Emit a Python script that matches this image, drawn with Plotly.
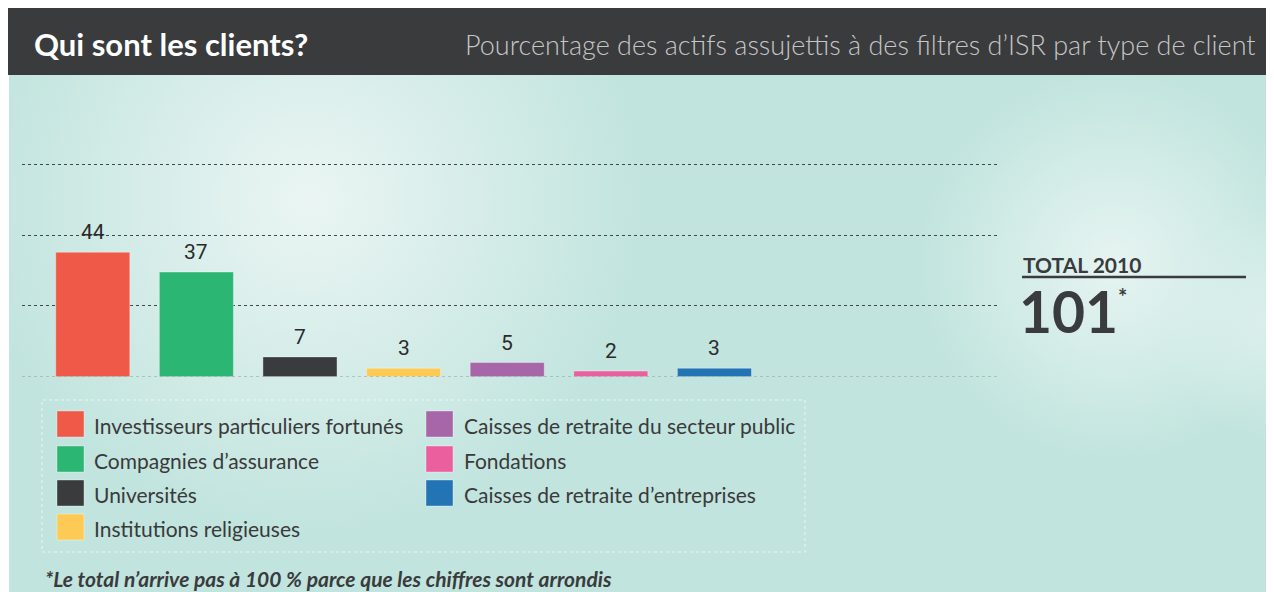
import base64
import plotly.graph_objects as go

# ---- data ----
categories = [
    "Investisseurs particuliers fortunés",
    "Compagnies d’assurance",
    "Universités",
    "Institutions religieuses",
    "Caisses de retraite du secteur public",
    "Fondations",
    "Caisses de retraite d’entreprises",
]
values = [44, 37, 7, 3, 5, 2, 3]
colors = ["#ef5947", "#2bb673", "#3a3b3d", "#fdcb55", "#a766a8", "#ec5f9f", "#2374b4"]
grid_values = [25, 50, 75]
total_label = "TOTAL 2010"
total_value = "101"
title = "Qui sont les clients?"
subtitle = "Pourcentage des actifs assujettis à des filtres d’ISR par type de client"
footnote = "*Le total n’arrive pas à 100 % parce que les chiffres sont arrondis"

# the page body adds an 8px margin, so the figure is drawn 8px smaller and
# positions below are given in window pixels, converted here
OFF = 8
W, H = 1274 - OFF, 592 - OFF


def px(x):
    return (x - OFF) / W


def py(y):
    return 1 - (y - OFF) / H


# ---- background gradient as svg image ----
bw, bh = 1265, 517
svg = f'''<svg xmlns="http://www.w3.org/2000/svg" width="{bw}" height="{bh}" viewBox="0 0 {bw} {bh}">
<defs>
<radialGradient id="g1" cx="301" cy="125" r="340" gradientUnits="userSpaceOnUse">
<stop offset="0" stop-color="#eaf5f3" stop-opacity="1"/>
<stop offset="1" stop-color="#eaf5f3" stop-opacity="0"/>
</radialGradient>
<radialGradient id="g2" cx="1105" cy="190" r="200" gradientUnits="userSpaceOnUse">
<stop offset="0" stop-color="#e6f4f1" stop-opacity="1"/>
<stop offset="1" stop-color="#e6f4f1" stop-opacity="0"/>
</radialGradient>
<radialGradient id="g3" cx="1275" cy="250" r="120" gradientUnits="userSpaceOnUse">
<stop offset="0" stop-color="#e2f2ef" stop-opacity="0.8"/>
<stop offset="1" stop-color="#e2f2ef" stop-opacity="0"/>
</radialGradient>
</defs>
<rect width="{bw}" height="{bh}" fill="#c1e4de"/>
<rect width="{bw}" height="{bh}" fill="url(#g1)"/>
<rect width="{bw}" height="{bh}" fill="url(#g2)"/>
<rect width="{bw}" height="{bh}" fill="url(#g3)"/>
</svg>'''
bg_uri = "data:image/svg+xml;base64," + base64.b64encode(svg.encode("utf-8")).decode("ascii")

x_pos = list(range(len(values)))

fig = go.Figure()
fig.add_trace(
    go.Bar(
        x=x_pos,
        y=values,
        width=0.715,
        marker=dict(color=colors, line=dict(color="rgba(255,255,255,0.35)", width=1)),
        hovertext=categories,
        showlegend=False,
    )
)

annotations = []
shapes = []

# value labels
for xi, v in zip(x_pos, values):
    annotations.append(
        dict(
            x=xi, y=v, xref="x", yref="y", text=str(v), showarrow=False,
            yanchor="bottom", yshift=6,
            font=dict(family="Roboto", size=21, color="#2b2b2b"),
        )
    )

# baseline
shapes.append(
    dict(type="line", xref="x domain", yref="y", x0=0, x1=1, y0=0, y1=0,
         line=dict(color="#9aa8a5", width=1, dash="dot"), layer="above")
)

# header bar
shapes.append(
    dict(type="rect", xref="paper", yref="paper", x0=0, x1=1, y0=py(75), y1=1,
         fillcolor="#3a3b3d", line=dict(width=0), layer="below")
)
annotations.append(
    dict(x=px(32), y=py(44), xref="paper", yref="paper", text=f"<b>{title}</b>",
         showarrow=False, xanchor="left", yanchor="middle",
         font=dict(family="Lato", size=31, color="#ffffff"))
)
annotations.append(
    dict(x=px(1258), y=py(45), xref="paper", yref="paper", text=subtitle,
         showarrow=False, xanchor="right", yanchor="middle",
         font=dict(family="Lato", size=27, color="#c6c6c6", weight=300))
)

# legend (manual, two columns)
leg_box = dict(type="rect", xref="paper", yref="paper", x0=px(42), x1=px(805), y0=py(552), y1=py(400),
               line=dict(color="#eaf6f3", width=1, dash="dot"), fillcolor="rgba(0,0,0,0)", layer="below")
shapes.append(leg_box)
row_y = [424, 459, 493, 527]
for i, (lab, col) in enumerate(zip(categories, colors)):
    if i < 4:
        sx, tx, ry = 57, 92, row_y[i]
    else:
        sx, tx, ry = 426, 462, row_y[i - 4]
    shapes.append(
        dict(type="rect", xref="paper", yref="paper", x0=px(sx), x1=px(sx + 27),
             y0=py(ry + 13), y1=py(ry - 13), fillcolor=col,
             line=dict(color="rgba(255,255,255,0.35)", width=1))
    )
    annotations.append(
        dict(x=px(tx), y=py(ry + 1), xref="paper", yref="paper", text=lab, showarrow=False,
             xanchor="left", yanchor="middle",
             font=dict(family="Lato", size=21, color="#3a3a3a"))
    )

# total block
annotations.append(
    dict(x=px(1021), y=py(265), xref="paper", yref="paper", text=f"<b>{total_label}</b>",
         showarrow=False, xanchor="left", yanchor="middle",
         font=dict(family="Lato", size=21, color="#3a3b3d"))
)
shapes.append(
    dict(type="line", xref="paper", yref="paper", x0=px(1022), x1=px(1246), y0=py(277), y1=py(277),
         line=dict(color="#3a3b3d", width=2.5))
)
annotations.append(
    dict(x=px(1017), y=py(311), xref="paper", yref="paper", text=f"<b>{total_value}</b>",
         showarrow=False, xanchor="left", yanchor="middle",
         font=dict(family="Lato", size=57, color="#3a3b3d", weight=900))
)
annotations.append(
    dict(x=px(1116), y=py(296), xref="paper", yref="paper", text="<b>*</b>",
         showarrow=False, xanchor="left", yanchor="middle",
         font=dict(family="Lato", size=22, color="#3a3b3d"))
)

# footnote
annotations.append(
    dict(x=px(43), y=py(578), xref="paper", yref="paper", text=f"<b><i>{footnote}</i></b>",
         showarrow=False, xanchor="left", yanchor="middle",
         font=dict(family="Lato", size=21, color="#3a3b3d"))
)

fig.update_layout(
    width=W,
    height=H,
    margin=dict(l=0, r=0, t=0, b=0),
    paper_bgcolor="#ffffff",
    plot_bgcolor="rgba(0,0,0,0)",
    showlegend=False,
    barmode="overlay",
    xaxis=dict(domain=[px(22), px(998)], range=[-0.683, 8.737], showgrid=False,
               showticklabels=False, zeroline=False, showline=False, ticks=""),
    yaxis=dict(domain=[py(376.7), py(100)], range=[0, 97.8], tickvals=grid_values,
               showgrid=True, gridcolor="#3f4a48", griddash="dot", gridwidth=1,
               showticklabels=False, zeroline=False, showline=False, ticks=""),
    images=[dict(source=bg_uri, xref="paper", yref="paper", x=px(9), y=py(75),
                 sizex=bw / W, sizey=bh / H, xanchor="left", yanchor="top",
                 sizing="stretch", layer="below")],
    shapes=shapes,
    annotations=annotations,
)

fig.write_html("out.html")
